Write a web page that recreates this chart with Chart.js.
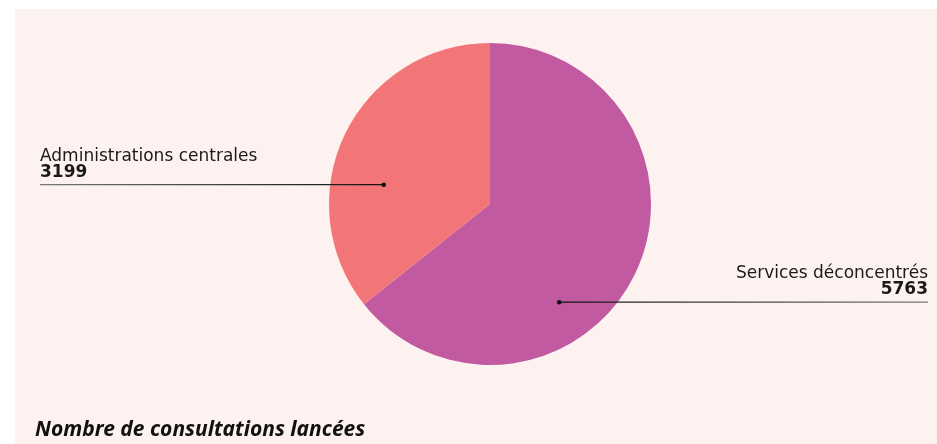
<!DOCTYPE html>
<html>
<head>
<meta charset="utf-8">
<script src="https://cdn.jsdelivr.net/npm/chart.js@4"></script>
<style>
  body { margin: 0; background: #ffffff; }
  #panel {
    position: absolute; left: 15px; top: 9px;
    width: 922px; height: 435px; background: #fdf2f0;
  }
</style>
</head>
<body>
<div id="panel"><canvas id="chart" width="922" height="435"></canvas></div>
<script>
const categories = ["Services déconcentrés", "Administrations centrales"];
const consultations = [5763, 3199];
const sliceColors = ["#c25aa2", "#f27678"];
const chartTitle = "Nombre de consultations lancées";

// where each label's dot sits, as fraction of radius from the centre
const anchorX = [0.43, -0.66];
const anchorY = [0.61, -0.12];

const labelsPlugin = {
  id: "labels",
  afterDraw(chart) {
    const ctx = chart.ctx;
    const arcs = chart.getDatasetMeta(0).data;
    const w = chart.width;
    ctx.save();
    arcs.forEach((arc, i) => {
      const r = arc.outerRadius;
      const dx = arc.x + anchorX[i] * r;
      const dy = arc.y + anchorY[i] * r;
      const right = anchorX[i] > 0;
      const endX = right ? w - 9 : 25;

      const grad = ctx.createLinearGradient(dx, 0, endX, 0);
      grad.addColorStop(0, "#111111");
      grad.addColorStop(1, "#777777");
      ctx.strokeStyle = grad;
      ctx.lineWidth = 1.3;
      ctx.beginPath();
      ctx.moveTo(dx, dy);
      ctx.lineTo(endX, dy);
      ctx.stroke();

      ctx.fillStyle = "#111111";
      ctx.beginPath();
      ctx.arc(dx, dy, 2.3, 0, Math.PI * 2);
      ctx.fill();

      ctx.textAlign = right ? "right" : "left";
      ctx.textBaseline = "alphabetic";
      ctx.font = "17px 'DejaVu Sans'";
      ctx.fillStyle = "#1a1a1a";
      ctx.fillText(categories[i], endX, dy - 24);
      ctx.font = "bold 17px 'DejaVu Sans'";
      ctx.fillText(String(consultations[i]), endX, dy - 8);
    });

    ctx.font = "italic bold 21px 'Noto Sans'";
    ctx.fillStyle = "#111111";
    ctx.textAlign = "left";
    ctx.fillText(chartTitle, 20, 427);
    ctx.restore();
  }
};

new Chart(document.getElementById("chart"), {
  type: "pie",
  data: {
    labels: categories,
    datasets: [
      {
        label: chartTitle,
        data: consultations,
        backgroundColor: sliceColors,
        borderWidth: 0,
      },
    ],
  },
  options: {
    responsive: false,
    animation: false,
    layout: { padding: { left: 314, right: 286, top: 34, bottom: 79 } },
    plugins: {
      legend: { display: false },
      tooltip: { enabled: false },
    },
  },
  plugins: [labelsPlugin],
});
</script>
</body>
</html>
